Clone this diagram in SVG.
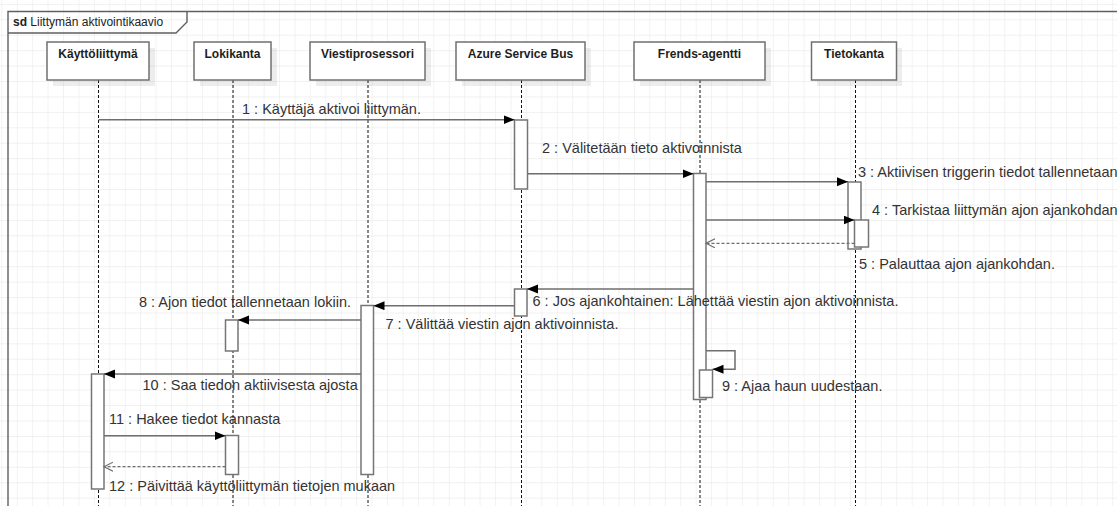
<svg xmlns="http://www.w3.org/2000/svg" width="1117" height="506" viewBox="0 0 1117 506">
  <style>
    .frame { fill: none; stroke: #5f5f5f; stroke-width: 1.4; }
    .head { fill: #ffffff; stroke: #707070; stroke-width: 1.5; }
    .shadow { fill: #000000; fill-opacity: 0.07; }
    .title { font-family: "Liberation Sans", Arial, sans-serif; font-size: 12px; font-weight: bold; fill: #1e1e1e; text-anchor: middle; }
    .life { stroke: #111111; stroke-width: 1; stroke-dasharray: 3 2; fill: none; }
    .act { fill: #ffffff; stroke: #757575; stroke-width: 1.5; }
    .msg { stroke: #6e6e6e; stroke-width: 1.5; fill: none; marker-end: url(#solid); }
    .ret { stroke: #6e6e6e; stroke-width: 1.2; stroke-dasharray: 3 2; fill: none; marker-end: url(#open); }
    .lbl { font-family: "Liberation Sans", Arial, sans-serif; font-size: 14.5px; fill: #333333; }
    .sd { font-family: "Liberation Sans", Arial, sans-serif; font-size: 12px; fill: #222222; }
  </style>
  <defs>
    <pattern id="grid" patternUnits="userSpaceOnUse" x="1.3" y="3.9" width="15.43" height="15.43">
      <path d="M0,0 H15.43 M0,0 V15.43" stroke="#ececec" stroke-width="1.3" fill="none"/>
    </pattern>
    <marker id="solid" markerUnits="userSpaceOnUse" markerWidth="12" markerHeight="10" refX="11" refY="4.5" orient="auto">
      <path d="M0,0 L11,4.5 L0,9 Z" fill="#000000"/>
    </marker>
    <marker id="open" markerUnits="userSpaceOnUse" markerWidth="12" markerHeight="12" refX="9" refY="5" orient="auto">
      <path d="M0,0.5 L9,5 L0,9.5" fill="none" stroke="#6e6e6e" stroke-width="1.2"/>
    </marker>
  </defs>

  <!-- background grid -->
  <rect x="0" y="0" width="1117" height="506" fill="#ffffff"/>
  <rect x="0" y="0" width="1117" height="506" fill="url(#grid)"/>

  <!-- interaction frame -->
  <g id="frame">
    <path class="frame" d="M8,520 V11.5 H1130"/>
    <path class="frame" d="M8,33 H176 L187,22 V11.5"/>
    <text class="sd" x="13" y="26"><tspan font-weight="bold">sd</tspan> Liittymän aktivointikaavio</text>
  </g>

  <!-- lifelines -->
  <g id="lifelines">
    <line class="life" x1="98.5" y1="80" x2="98.5" y2="506"/>
    <line class="life" x1="233" y1="80" x2="233" y2="506"/>
    <line class="life" x1="368" y1="80" x2="368" y2="506"/>
    <line class="life" x1="521.5" y1="80" x2="521.5" y2="506"/>
    <line class="life" x1="700" y1="80" x2="700" y2="506"/>
    <line class="life" x1="855.5" y1="80" x2="855.5" y2="506"/>
  </g>

  <g id="kayttoliittyma">
    <rect class="shadow" x="53" y="48" width="102" height="38"/>
    <rect class="head" x="47" y="42" width="102" height="38"/>
    <text class="title" x="98" y="58">Käyttöliittymä</text>
  </g>
  <g id="lokikanta">
    <rect class="shadow" x="200" y="48" width="77" height="38"/>
    <rect class="head" x="194" y="42" width="77" height="38"/>
    <text class="title" x="232.5" y="58">Lokikanta</text>
  </g>
  <g id="viestiprosessori">
    <rect class="shadow" x="316" y="48" width="115" height="38"/>
    <rect class="head" x="310" y="42" width="115" height="38"/>
    <text class="title" x="367.5" y="58">Viestiprosessori</text>
  </g>
  <g id="azure-service-bus">
    <rect class="shadow" x="462" y="48" width="129" height="38"/>
    <rect class="head" x="456" y="42" width="129" height="38"/>
    <text class="title" x="520.5" y="58">Azure Service Bus</text>
  </g>
  <g id="frends-agentti">
    <rect class="shadow" x="640" y="48" width="131" height="38"/>
    <rect class="head" x="634" y="42" width="131" height="38"/>
    <text class="title" x="699.5" y="58">Frends-agentti</text>
  </g>
  <g id="tietokanta">
    <rect class="shadow" x="817" y="48" width="85" height="38"/>
    <rect class="head" x="811.5" y="42" width="85" height="38"/>
    <text class="title" x="854" y="58">Tietokanta</text>
  </g>

  <!-- activation bars -->
  <g id="activations">
    <rect class="act" x="514.5" y="120" width="13" height="69"/>
    <rect class="act" x="693.5" y="173.5" width="12.5" height="226"/>
    <rect class="act" x="848" y="182" width="13" height="67"/>
    <rect class="act" x="854.5" y="220" width="14" height="27"/>
    <rect class="act" x="514.5" y="289" width="12.5" height="27"/>
    <rect class="act" x="361" y="305.5" width="12.5" height="169"/>
    <rect class="act" x="225.5" y="320" width="12.5" height="31"/>
    <rect class="act" x="699.5" y="370" width="13" height="27.5"/>
    <rect class="act" x="91.5" y="374" width="12.5" height="115"/>
    <rect class="act" x="225.5" y="435.5" width="13" height="39"/>
  </g>

  <!-- messages -->
  <g id="connectors">
    <line class="msg" x1="98.5" y1="119.7" x2="514.5" y2="119.7"/>
    <text class="lbl" x="242" y="114">1 : Käyttäjä aktivoi liittymän.</text>

    <line class="msg" x1="527.5" y1="173.7" x2="693.5" y2="173.7"/>
    <text class="lbl" x="542" y="153">2 : Välitetään tieto aktivoinnista</text>

    <line class="msg" x1="706" y1="181.7" x2="848" y2="181.7"/>
    <text class="lbl" x="858" y="177">3 : Aktiivisen triggerin tiedot tallennetaan</text>

    <line class="msg" x1="706" y1="220" x2="854.5" y2="220"/>
    <text class="lbl" x="872" y="215">4 : Tarkistaa liittymän ajon ajankohdan</text>

    <line class="ret" x1="854.5" y1="243.3" x2="706" y2="243.3"/>
    <text class="lbl" x="859" y="269">5 : Palauttaa ajon ajankohdan.</text>

    <line class="msg" x1="693.5" y1="289" x2="527" y2="289"/>
    <text class="lbl" x="532.5" y="306">6 : Jos ajankohtainen: Lähettää viestin ajon aktivoinnista.</text>

    <line class="msg" x1="514.5" y1="305.7" x2="373.5" y2="305.7"/>
    <text class="lbl" x="385.5" y="329">7 : Välittää viestin ajon aktivoinnista.</text>

    <line class="msg" x1="361" y1="320" x2="238" y2="320"/>
    <text class="lbl" x="139" y="307">8 : Ajon tiedot tallennetaan lokiin.</text>

    <path class="msg" d="M706,350.7 H735 V369.3 H712.5"/>
    <text class="lbl" x="722" y="391">9 : Ajaa haun uudestaan.</text>

    <line class="msg" x1="361" y1="374" x2="104" y2="374"/>
    <text class="lbl" x="142.5" y="390">10 : Saa tiedon aktiivisesta ajosta</text>

    <line class="msg" x1="104" y1="435.7" x2="225.5" y2="435.7"/>
    <text class="lbl" x="109" y="424">11 : Hakee tiedot kannasta</text>

    <line class="ret" x1="225.5" y1="466.7" x2="104" y2="466.7"/>
    <text class="lbl" x="109" y="491">12 : Päivittää käyttöliittymän tietojen mukaan</text>
  </g>
</svg>
